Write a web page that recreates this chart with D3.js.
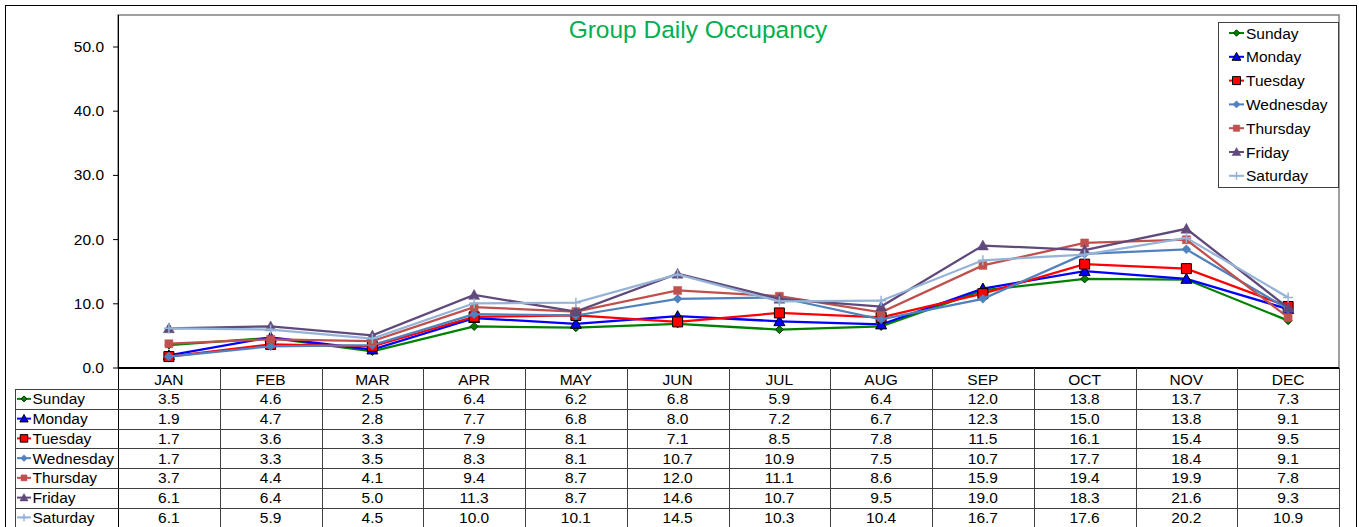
<!DOCTYPE html>
<html>
<head>
<meta charset="utf-8">
<script src="https://cdn.jsdelivr.net/npm/d3@7"></script>
<style>
  body { margin: 0; background: #fff; }
  text { font-family: "Liberation Sans", Arial, sans-serif; }
</style>
</head>
<body>
<div id="chart"></div>
<script>
var months = ["JAN", "FEB", "MAR", "APR", "MAY", "JUN", "JUL", "AUG", "SEP", "OCT", "NOV", "DEC"];
var sunday    = [3.5, 4.6, 2.5, 6.4, 6.2, 6.8, 5.9, 6.4, 12.0, 13.8, 13.7, 7.3];
var monday    = [1.9, 4.7, 2.8, 7.7, 6.8, 8.0, 7.2, 6.7, 12.3, 15.0, 13.8, 9.1];
var tuesday   = [1.7, 3.6, 3.3, 7.9, 8.1, 7.1, 8.5, 7.8, 11.5, 16.1, 15.4, 9.5];
var wednesday = [1.7, 3.3, 3.5, 8.3, 8.1, 10.7, 10.9, 7.5, 10.7, 17.7, 18.4, 9.1];
var thursday  = [3.7, 4.4, 4.1, 9.4, 8.7, 12.0, 11.1, 8.6, 15.9, 19.4, 19.9, 7.8];
var friday    = [6.1, 6.4, 5.0, 11.3, 8.7, 14.6, 10.7, 9.5, 19.0, 18.3, 21.6, 9.3];
var saturday  = [6.1, 5.9, 4.5, 10.0, 10.1, 14.5, 10.3, 10.4, 16.7, 17.6, 20.2, 10.9];
var yTicks = [0, 10, 20, 30, 40, 50];

var series = [
  { name: "Sunday",    values: sunday,    color: "#008000", marker: "diamond",  size: 4,   outline: "#003300" },
  { name: "Monday",    values: monday,    color: "#0000FF", marker: "triangle", size: 5.5, outline: "#000000" },
  { name: "Tuesday",   values: tuesday,   color: "#FF0000", marker: "square",   size: 5,   outline: "#000000" },
  { name: "Wednesday", values: wednesday, color: "#4F81BD", marker: "diamond",  size: 4.5, outline: null },
  { name: "Thursday",  values: thursday,  color: "#C0504D", marker: "square",   size: 4,   outline: null },
  { name: "Friday",    values: friday,    color: "#604A7B", marker: "triangle", size: 5.5, outline: null },
  { name: "Saturday",  values: saturday,  color: "#95B3D7", marker: "plus",     size: 5,   outline: null }
];

var width = 1359, height = 527;
var plot = { left: 118, top: 15, right: 1339, bottom: 368 };
var rowH = 19.75;
var fs = 15.5;

var svg = d3.select("#chart")
  .append("svg")
    .attr("width", width)
    .attr("height", height);

// outer chart border
svg.append("rect")
    .attr("x", 5.5)
    .attr("y", 5.5)
    .attr("width", 1351)
    .attr("height", 530)
    .attr("fill", "white")
    .attr("stroke", "#000")
    .attr("stroke-width", 1);

var x = d3.scaleBand()
    .domain(months)
    .range([plot.left, plot.right]);

var y = d3.scaleLinear()
    .domain([0, 55])
    .range([367.5, 367.5 - 55 * 6.42]);

// plot area frame
svg.append("rect")
    .attr("x", plot.left)
    .attr("y", plot.top)
    .attr("width", plot.right - plot.left)
    .attr("height", plot.bottom - plot.top)
    .attr("fill", "white")
    .attr("stroke", "#808080")
    .attr("stroke-width", 1.5);

// y axis
var yAxis = d3.axisLeft(y)
    .tickValues(yTicks)
    .tickFormat(d3.format(".1f"))
    .tickSize(5)
    .tickPadding(9);

var gy = svg.append("g")
    .attr("transform", "translate(" + plot.left + ",0)")
    .call(yAxis);
gy.select(".domain").remove();
gy.selectAll("line").attr("stroke", "#000");
gy.selectAll("text")
    .attr("font-size", fs)
    .attr("fill", "#000")
    .style("font-family", "'Liberation Sans', Arial, sans-serif");

svg.append("line")
    .attr("x1", plot.left + 0.5).attr("x2", plot.left + 0.5)
    .attr("y1", plot.top).attr("y2", height)
    .attr("stroke", "#000");

// title
svg.append("text")
    .attr("x", 698)
    .attr("y", 38)
    .attr("text-anchor", "middle")
    .attr("font-size", 24.5)
    .attr("fill", "#00B050")
    .text("Group Daily Occupancy");

function markerPath(type, s) {
  if (type === "diamond") return "M0," + (-s) + "L" + s + ",0L0," + s + "L" + (-s) + ",0Z";
  if (type === "square") return "M" + (-s) + "," + (-s) + "H" + s + "V" + s + "H" + (-s) + "Z";
  if (type === "triangle") return "M0," + (-s) + "L" + s + "," + (s * 0.8) + "H" + (-s) + "Z";
  return "M" + (-s) + ",0H" + s + "M0," + (-s) + "V" + s;
}

function drawMarker(g, d, cx, cy, scale) {
  var s = d.size * (scale || 1);
  var p = g.append("path")
      .attr("transform", "translate(" + cx + "," + cy + ")")
      .attr("d", markerPath(d.marker, s));
  if (d.marker === "plus") {
    p.attr("fill", "none").attr("stroke", d.color).attr("stroke-width", 1.5);
  } else {
    p.attr("fill", d.color)
      .attr("stroke", d.outline || d.color)
      .attr("stroke-width", d.outline ? 1 : 0.5);
  }
}

var line = d3.line()
    .x(function(d, i) { return x(months[i]) + x.bandwidth() / 2; })
    .y(function(d) { return y(d); });

var lines = svg.append("g");
series.forEach(function(s) {
  var g = lines.append("g");
  g.append("path")
      .attr("d", line(s.values))
      .attr("fill", "none")
      .attr("stroke", s.color)
      .attr("stroke-width", 2.25);
  s.values.forEach(function(v, i) {
    drawMarker(g, s, x(months[i]) + x.bandwidth() / 2, y(v));
  });
});

// zero baseline
svg.append("line")
    .attr("x1", plot.left).attr("x2", plot.right)
    .attr("y1", 368).attr("y2", 368)
    .attr("stroke", "#000")
    .attr("stroke-width", 2);

// legend
var legend = svg.append("g");
legend.append("rect")
    .attr("x", 1218.5)
    .attr("y", 22.5)
    .attr("width", 120)
    .attr("height", 165)
    .attr("fill", "white")
    .attr("stroke", "#404040");

series.forEach(function(s, i) {
  var ly = 33 + i * 23.8;
  legend.append("line")
      .attr("x1", 1229).attr("x2", 1244)
      .attr("y1", ly).attr("y2", ly)
      .attr("stroke", s.color)
      .attr("stroke-width", 2);
  drawMarker(legend, s, 1236.5, ly, 0.8);
  legend.append("text")
      .attr("x", 1246)
      .attr("y", ly + 5.5)
      .attr("font-size", fs)
      .attr("fill", "#000")
      .text(s.name);
});

// data table
var table = svg.append("g");
var tableTop = 368;
var headerBottom = 389;

// month header
months.forEach(function(m) {
  table.append("text")
      .attr("x", x(m) + x.bandwidth() / 2)
      .attr("y", 384.5)
      .attr("text-anchor", "middle")
      .attr("font-size", fs)
      .attr("fill", "#000")
      .text(m);
});

// vertical grid lines
months.forEach(function(m, i) {
  if (i === 0) return;
  table.append("line")
      .attr("x1", Math.round(x(m)) + 0.5).attr("x2", Math.round(x(m)) + 0.5)
      .attr("y1", tableTop).attr("y2", height)
      .attr("stroke", "#404040");
});
table.append("line")
    .attr("x1", plot.right + 0.5).attr("x2", plot.right + 0.5)
    .attr("y1", tableTop).attr("y2", height)
    .attr("stroke", "#404040");
table.append("line")
    .attr("x1", 15.5).attr("x2", 15.5)
    .attr("y1", headerBottom).attr("y2", height)
    .attr("stroke", "#404040");

// horizontal row lines
d3.range(series.length + 1).forEach(function(r) {
  var ly = Math.round(headerBottom + r * rowH) + 0.5;
  table.append("line")
      .attr("x1", 15).attr("x2", plot.right + 1)
      .attr("y1", ly).attr("y2", ly)
      .attr("stroke", "#404040");
});

series.forEach(function(s, r) {
  var cy = headerBottom + r * rowH + rowH / 2;
  table.append("line")
      .attr("x1", 17).attr("x2", 31)
      .attr("y1", cy).attr("y2", cy)
      .attr("stroke", s.color)
      .attr("stroke-width", 2);
  drawMarker(table, s, 24, cy, 0.75);
  table.append("text")
      .attr("x", 32.5)
      .attr("y", cy + 5.5)
      .attr("font-size", fs)
      .attr("fill", "#000")
      .text(s.name);
  s.values.forEach(function(v, i) {
    table.append("text")
        .attr("x", x(months[i]) + x.bandwidth() / 2)
        .attr("y", cy + 5.5)
        .attr("text-anchor", "middle")
        .attr("font-size", fs)
        .attr("fill", "#000")
        .text(v.toFixed(1));
  });
});
</script>
</body>
</html>
